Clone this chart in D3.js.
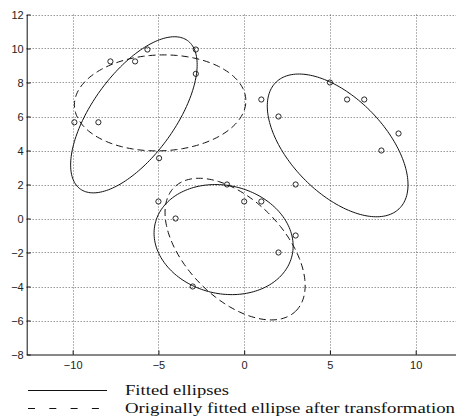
<html>
<head>
<meta charset="utf-8">
<script src="https://d3js.org/d3.v7.min.js"></script>
<style>
body { margin:0; background:#fff; }
.tick text { font-family:"Liberation Sans", Arial, sans-serif; font-size:11px; fill:#222; }
.legend { font-family:"Liberation Serif", "DejaVu Serif", serif; font-size:14px; fill:#111; }
</style>
</head>
<body>
<svg id="plot"></svg>
<script>

// tick labels
var xTicks = [-10, -5, 0, 5, 10];
var yTicks = [-8, -6, -4, -2, 0, 2, 4, 6, 8, 10, 12];

// the three point sets
var pointsTop = [[-9.9,5.66],[-8.5,5.66],[-7.8,9.24],[-6.36,9.24],[-5.64,9.94],[-2.82,9.94],[-2.82,8.51],[-4.96,3.55]];
var pointsRight = [[5,8],[1,7],[6,7],[7,7],[2,6],[9,5],[8,4],[3,2]];
var pointsBottom = [[-5,1],[-4,0],[-3,-4],[-1,2],[0,1],[1,1],[3,-1],[2,-2]];

// ellipses: centre x, centre y, semi axes a and b, angle in degrees
var fitted = [
    {cx:-6.43, cy:6.1, a:5.37, b:2.42, angle:54.5},
    {cx:5.45, cy:4.3, a:5.17, b:2.78, angle:-46.2},
    {cx:-1.2, cy:-1.24, a:4.1, b:3.18, angle:-13.6}
];
var transformed = [
    {cx:-4.9, cy:6.8, a:5.0, b:2.82, angle:2},
    {cx:-0.53, cy:-1.8, a:5.08, b:2.87, angle:-46.1}
];

var legendLabels = ["Fitted ellipses", "Originally fitted ellipse after transformation"];

var screen = {width:456, height:419};

var svg = d3.select("#plot")
    .attr("width", screen.width)
    .attr("height", screen.height);

var xScale = d3.scaleLinear()
    .domain([-12.68, 12.35])
    .range([26.7, 456]);

var yScale = d3.scaleLinear()
    .domain([-8, 12])
    .range([354.5, 14.5]);

//grid
var grid = svg.append("g");

grid.selectAll(".hgrid")
    .data(yTicks.filter(function(d){ return d > -8; }))
    .enter()
    .append("line")
    .attr("x1", xScale.range()[0])
    .attr("x2", xScale.range()[1])
    .attr("y1", function(d){ return Math.round(yScale(d)) + 0.5; })
    .attr("y2", function(d){ return Math.round(yScale(d)) + 0.5; })
    .attr("stroke", "#444")
    .attr("stroke-width", 0.8)
    .attr("stroke-dasharray", "1,2");

grid.selectAll(".vgrid")
    .data(xTicks)
    .enter()
    .append("line")
    .attr("x1", function(d){ return Math.round(xScale(d)) + 0.5; })
    .attr("x2", function(d){ return Math.round(xScale(d)) + 0.5; })
    .attr("y1", yScale.range()[0])
    .attr("y2", yScale.range()[1])
    .attr("stroke", "#444")
    .attr("stroke-width", 0.8)
    .attr("stroke-dasharray", "1,2");

//axes
var xAxis = d3.axisBottom(xScale)
    .tickValues(xTicks)
    .tickSizeInner(-4)
    .tickSizeOuter(0)
    .tickPadding(7);

var yAxis = d3.axisLeft(yScale)
    .tickValues(yTicks)
    .tickSizeInner(-4)
    .tickSizeOuter(0)
    .tickPadding(3);

svg.append("g")
    .attr("transform", "translate(0," + yScale(-8) + ")")
    .call(xAxis);

svg.append("g")
    .attr("transform", "translate(" + xScale.range()[0] + ",0)")
    .call(yAxis);

svg.selectAll(".domain, .tick line").attr("stroke", "#111");
svg.selectAll(".tick text").attr("fill", "#222");

//ellipses
var ellipsePath = function(e)
{
    var th = e.angle * Math.PI / 180;
    var pts = d3.range(0, 361, 2).map(function(deg)
    {
        var t = deg * Math.PI / 180;
        var px = e.cx + e.a * Math.cos(t) * Math.cos(th) - e.b * Math.sin(t) * Math.sin(th);
        var py = e.cy + e.a * Math.cos(t) * Math.sin(th) + e.b * Math.sin(t) * Math.cos(th);
        return [xScale(px), yScale(py)];
    });
    return d3.line().curve(d3.curveLinearClosed)(pts);
}

svg.selectAll(".fitted")
    .data(fitted)
    .enter()
    .append("path")
    .attr("d", ellipsePath)
    .attr("fill", "none")
    .attr("stroke", "#111")
    .attr("stroke-width", 1);

svg.selectAll(".transformed")
    .data(transformed)
    .enter()
    .append("path")
    .attr("d", ellipsePath)
    .attr("fill", "none")
    .attr("stroke", "#111")
    .attr("stroke-width", 1)
    .attr("stroke-dasharray", "7,4");

//points
var allPoints = pointsTop.concat(pointsRight).concat(pointsBottom);

svg.selectAll(".pt")
    .data(allPoints)
    .enter()
    .append("circle")
    .attr("cx", function(d){ return xScale(d[0]); })
    .attr("cy", function(d){ return yScale(d[1]); })
    .attr("r", 2.6)
    .attr("fill", "none")
    .attr("stroke", "#111")
    .attr("stroke-width", 0.9);

//legend
var legend = svg.append("g");

legend.append("line")
    .attr("x1", 28).attr("x2", 107)
    .attr("y1", 390.5).attr("y2", 390.5)
    .attr("stroke", "#111");

legend.append("line")
    .attr("x1", 28).attr("x2", 100)
    .attr("y1", 408.5).attr("y2", 408.5)
    .attr("stroke", "#111")
    .attr("stroke-dasharray", "7,14.3");

legend.append("text")
    .classed("legend", true)
    .attr("x", 125)
    .attr("y", 395)
    .attr("textLength", 104)
    .attr("lengthAdjust", "spacingAndGlyphs")
    .text(legendLabels[0]);

legend.append("text")
    .classed("legend", true)
    .attr("x", 125)
    .attr("y", 413)
    .attr("textLength", 330)
    .attr("lengthAdjust", "spacingAndGlyphs")
    .text(legendLabels[1]);

</script>
</body>
</html>
